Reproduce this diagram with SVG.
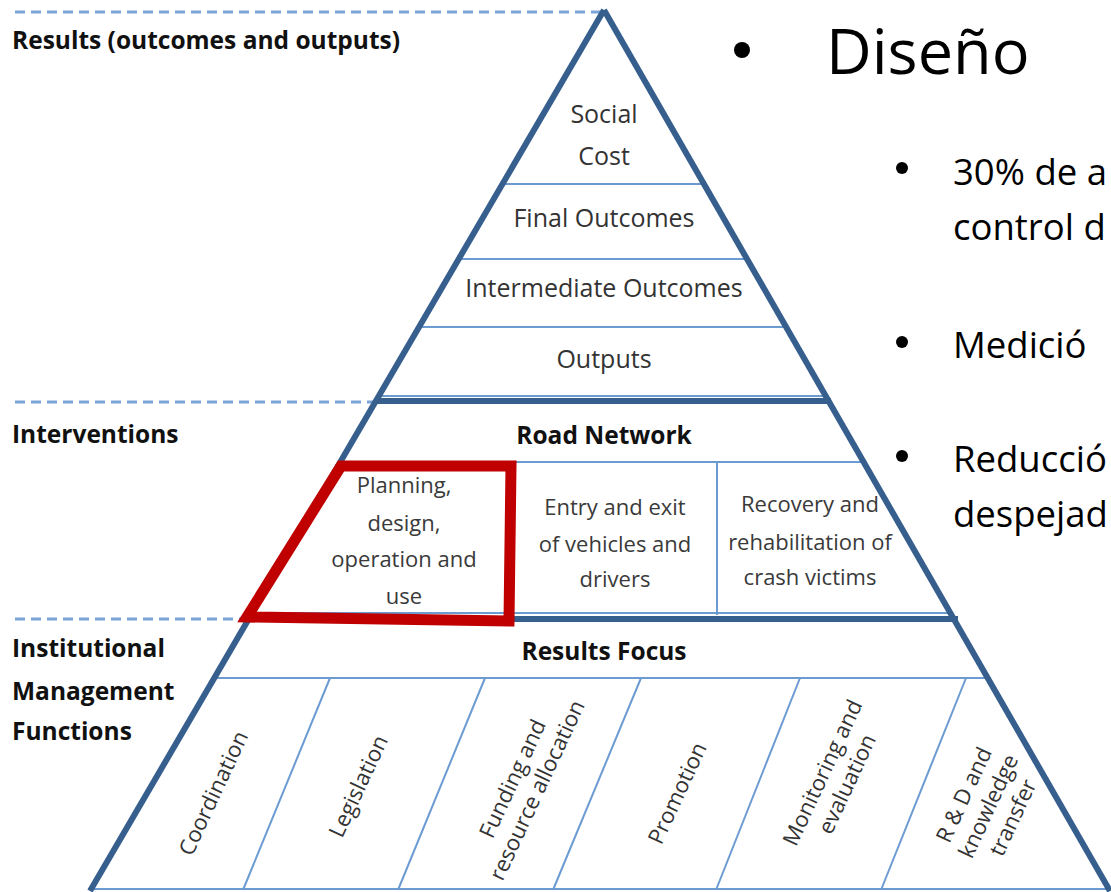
<svg xmlns="http://www.w3.org/2000/svg" width="1111" height="892" viewBox="0 0 1111 892">
<style>
.lbl{font-family:"Open Sans","Liberation Sans",sans-serif;font-size:25px;fill:#333;text-anchor:middle}
.cell{font-family:"Open Sans","Liberation Sans",sans-serif;font-size:22px;fill:#3a3a3a;text-anchor:middle}
.rot{font-family:"Open Sans","Liberation Sans",sans-serif;font-size:22px;fill:#333;text-anchor:middle}
.bold{font-family:"Open Sans","Liberation Sans",sans-serif;font-size:24.5px;font-weight:bold;fill:#111}
.bc{text-anchor:middle}
.big{font-family:"Open Sans","Liberation Sans",sans-serif;fill:#000}
.sub{font-size:36.5px}
.thin{stroke:#6c9bd2;stroke-width:2;fill:none}
.thick{stroke:#365f8e;stroke-width:6;fill:none}
.dash{stroke:#7ba5d6;stroke-width:3;stroke-dasharray:10 6;fill:none}
</style>
<rect width="1111" height="892" fill="#fff"/>
<g id="guides">
<line class="dash" x1="15" y1="12" x2="600" y2="12"/>
<line class="dash" x1="15" y1="402" x2="374" y2="402"/>
<line class="dash" x1="15" y1="619" x2="242" y2="619"/>
</g>
<g id="section-labels">
<text class="bold" x="12" y="49" font-size="25">Results (outcomes and outputs)</text>
<text class="bold" x="12" y="443">Interventions</text>
<text class="bold" x="12" y="657">Institutional</text>
<text class="bold" x="12" y="700">Management</text>
<text class="bold" x="12" y="740">Functions</text>
</g>
<g id="connectors">
<line class="thin" x1="503" y1="184" x2="705" y2="184"/>
<line class="thin" x1="460" y1="259" x2="747" y2="259"/>
<line class="thin" x1="420" y1="327" x2="787" y2="327"/>
<line class="thin" x1="381" y1="396" x2="826" y2="396"/>
<line class="thin" x1="341" y1="462" x2="865" y2="462"/>
<line class="thin" x1="513" y1="462" x2="513" y2="615"/>
<line class="thin" x1="717" y1="462" x2="717" y2="615"/>
<line class="thin" x1="253" y1="613" x2="953" y2="613"/>
<line class="thin" x1="214" y1="678" x2="991" y2="678"/>
<line class="thin" x1="330" y1="678" x2="243" y2="890"/>
<line class="thin" x1="485" y1="678" x2="398" y2="890"/>
<line class="thin" x1="641" y1="678" x2="553" y2="890"/>
<line class="thin" x1="800" y1="678" x2="716" y2="890"/>
<line class="thin" x1="966" y1="678" x2="881" y2="890"/>
<line class="thin" x1="90" y1="889" x2="1111" y2="889"/>
<line class="thick" x1="375" y1="401" x2="831" y2="401"/>
<line class="thick" x1="248" y1="619" x2="958" y2="619"/>
<line class="thick" x1="604" y1="10" x2="90" y2="891"/>
<line class="thick" x1="604" y1="10" x2="1110" y2="891"/>
</g>
<g id="social-cost">
<text class="lbl" x="604" y="123">Social</text>
<text class="lbl" x="604" y="165">Cost</text>
</g>
<g id="final-outcomes"><text class="lbl" x="604" y="227">Final Outcomes</text></g>
<g id="intermediate-outcomes"><text class="lbl" x="604" y="297">Intermediate Outcomes</text></g>
<g id="outputs"><text class="lbl" x="604" y="368">Outputs</text></g>
<g id="road-network"><text class="bold bc" x="604" y="444">Road Network</text></g>
<g id="planning">
<text class="cell" x="404" y="493">Planning,</text>
<text class="cell" x="404" y="531">design,</text>
<text class="cell" x="404" y="567">operation and</text>
<text class="cell" x="404" y="604">use</text>
</g>
<g id="entry-exit">
<text class="cell" x="615" y="515">Entry and exit</text>
<text class="cell" x="615" y="552">of vehicles and</text>
<text class="cell" x="615" y="587">drivers</text>
</g>
<g id="recovery">
<text class="cell" x="810" y="512">Recovery and</text>
<text class="cell" x="810" y="550">rehabilitation of</text>
<text class="cell" x="810" y="585">crash victims</text>
</g>
<g id="results-focus"><text class="bold bc" x="604" y="660">Results Focus</text></g>
<g id="coordination" transform="translate(213,793) rotate(-65)"><text class="rot" x="0" y="8">Coordination</text></g>
<g id="legislation" transform="translate(358,786) rotate(-65)"><text class="rot" x="0" y="8">Legislation</text></g>
<g id="funding" transform="translate(524,784) rotate(-65)"><text class="rot" x="0" y="-5">Funding and</text><text class="rot" x="0" y="22">resource allocation</text></g>
<g id="promotion" transform="translate(677,793) rotate(-65)"><text class="rot" x="0" y="8">Promotion</text></g>
<g id="monitoring" transform="translate(834,778) rotate(-65)"><text class="rot" x="0" y="-5">Monitoring and</text><text class="rot" x="0" y="22">evaluation</text></g>
<g id="rnd" transform="translate(988,806) rotate(-65)"><text class="rot" x="0" y="-19">R &amp; D and</text><text class="rot" x="0" y="8">knowledge</text><text class="rot" x="0" y="35">transfer</text></g>
<g id="highlight">
<polygon points="341,466 511,466 509,621 247,617" fill="none" stroke="#c00000" stroke-width="11" stroke-linejoin="miter"/>
</g>
<g id="bullets">
<circle cx="742" cy="50" r="8" fill="#000"/>
<text class="big" x="826" y="74" font-size="63">Diseño</text>
<circle cx="902" cy="168" r="6" fill="#000"/>
<text class="big sub" x="953" y="185">30% de a</text>
<text class="big sub" x="953" y="240">control d</text>
<circle cx="902" cy="342" r="6" fill="#000"/>
<text class="big sub" x="953" y="358">Medició</text>
<circle cx="902" cy="456" r="6" fill="#000"/>
<text class="big sub" x="953" y="472">Reducció</text>
<text class="big sub" x="953" y="527">despejad</text>
</g>
</svg>
